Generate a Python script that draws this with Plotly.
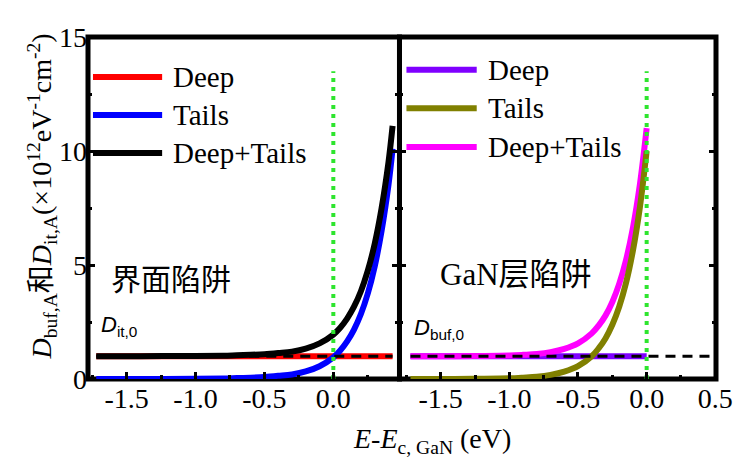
import plotly.graph_objects as go

# ---- data: interface traps (left panel) ----
E_it = [-1.72, -1.4, -1.0, -0.8, -0.7, -0.6, -0.5, -0.4, -0.3, -0.2, -0.1, 0.0,
        0.05, 0.1, 0.15, 0.2, 0.25, 0.3, 0.35, 0.4, 0.43]
deep_it = [1.0] * len(E_it)
tails_it = [0.0, 0.002, 0.008, 0.02, 0.04, 0.06, 0.09, 0.14, 0.2, 0.33, 0.56, 0.95,
            1.25, 1.65, 2.17, 2.85, 3.75, 4.93, 6.49, 8.5, 10.1]
total_it = [1.0, 1.002, 1.008, 1.02, 1.04, 1.06, 1.09, 1.14, 1.2, 1.33, 1.56, 1.95,
            2.25, 2.65, 3.17, 3.85, 4.75, 5.93, 7.49, 9.5, 11.1]
E_it_ref = [-1.72, 0.43]
D_it0 = [1.0, 1.0]

# ---- data: GaN buffer traps (right panel) ----
E_buf = [-1.72, -1.4, -1.2, -1.0, -0.9, -0.8, -0.7, -0.6, -0.5, -0.4, -0.35, -0.3,
         -0.25, -0.2, -0.15, -0.1, -0.05, 0.0]
deep_buf = [1.0] * len(E_buf)
tails_buf = [0.0, 0.003, 0.01, 0.03, 0.06, 0.1, 0.18, 0.32, 0.56, 1.0, 1.34, 1.78,
             2.38, 3.17, 4.22, 5.63, 7.5, 10.0]
total_buf = [1.0, 1.003, 1.01, 1.03, 1.06, 1.1, 1.18, 1.32, 1.56, 2.0, 2.34, 2.78,
             3.38, 4.17, 5.22, 6.63, 8.5, 11.0]
E_buf_ref = [-1.72, 0.5]
D_buf0 = [1.0, 1.0]

# conduction band edge marker
E_c = [0.0, 0.0]
marker_span = [0.0, 13.5]

x_tickvals_left = [-1.5, -1.0, -0.5, 0.0]
x_ticktext_left = ["-1.5", "-1.0", "-0.5", "0.0"]
x_tickvals_right = [-1.5, -1.0, -0.5, 0.0, 0.5]
x_ticktext_right = ["-1.5", "-1.0", "-0.5", "0.0", "0.5"]
y_tickvals = [0, 5, 10, 15]

series_left = [("Deep", "#ff0000", deep_it), ("Tails", "#0000ff", tails_it),
               ("Deep+Tails", "#000000", total_it)]
series_right = [("Deep", "#7f00ff", deep_buf), ("Tails", "#808000", tails_buf),
                ("Deep+Tails", "#ff00ff", total_buf)]

SERIF = "Liberation Serif, Times New Roman, serif"
CJK = "Noto Sans CJK SC"
SANS = "Liberation Sans, Arial, sans-serif"

fig = go.Figure()

for name, color, ys in series_left:
    fig.add_trace(go.Scatter(x=E_it, y=ys, mode="lines", name=name,
                             line=dict(color=color, width=6, shape="spline"),
                             xaxis="x", yaxis="y", showlegend=False))
fig.add_trace(go.Scatter(x=E_it_ref, y=D_it0, mode="lines",
                         line=dict(color="black", width=3, dash="10px,7px"),
                         xaxis="x", yaxis="y", showlegend=False))
fig.add_trace(go.Scatter(x=E_c, y=marker_span, mode="lines",
                         line=dict(color="#2ee52e", width=4, dash="4px,5px"),
                         xaxis="x", yaxis="y", showlegend=False))

# right panel: Deep under Deep+Tails
for name, color, ys in [series_right[0], series_right[2], series_right[1]]:
    fig.add_trace(go.Scatter(x=E_buf, y=ys, mode="lines", name=name,
                             line=dict(color=color, width=6, shape="spline"),
                             xaxis="x2", yaxis="y2", showlegend=False))
fig.add_trace(go.Scatter(x=E_buf_ref, y=D_buf0, mode="lines",
                         line=dict(color="black", width=3, dash="10px,7px"),
                         xaxis="x2", yaxis="y2", showlegend=False))
fig.add_trace(go.Scatter(x=E_c, y=marker_span, mode="lines",
                         line=dict(color="#2ee52e", width=4, dash="4px,5px"),
                         xaxis="x2", yaxis="y2", showlegend=False))

tickfont = dict(family=SERIF, size=28, color="black")
xcommon = dict(ticks="inside", ticklen=7, tickwidth=3, tickcolor="black",
               showgrid=False, zeroline=False, showline=False, tickfont=tickfont,
               minor=dict(ticks="inside", ticklen=4, tickwidth=3, dtick=0.25,
                          tickcolor="black", showgrid=False))
ycommon = dict(range=[0, 15], ticks="inside", ticklen=7, tickwidth=3, tickcolor="black",
               showgrid=False, zeroline=False, showline=False, mirror="ticks",
               tickfont=tickfont, tickvals=y_tickvals,
               minor=dict(ticks="inside", ticklen=4, tickwidth=3, dtick=2.5,
                          tickcolor="black", showgrid=False))

split = 0.496
fig.update_layout(
    width=745, height=461,
    margin=dict(l=88, r=22, t=37, b=82),
    paper_bgcolor="white", plot_bgcolor="white",
    xaxis=dict(domain=[0, split], range=[-1.78, 0.48], anchor="y",
               tickvals=x_tickvals_left, ticktext=x_ticktext_left, **xcommon),
    xaxis2=dict(domain=[split, 1], range=[-1.80, 0.505], anchor="y2",
                tickvals=x_tickvals_right, ticktext=x_ticktext_right, **xcommon),
    yaxis=dict(anchor="x", **ycommon),
    yaxis2=dict(anchor="x2", matches="y", showticklabels=False, **ycommon),
    showlegend=False,
)

# panel frames
for xr, yr in [("x domain", "y domain"), ("x2 domain", "y2 domain")]:
    fig.add_shape(type="rect", xref=xr, yref=yr, x0=0, x1=1, y0=0, y1=1,
                  line=dict(color="black", width=5), layer="below")

# in-panel legends
legend_rows = [
    ("x domain", "y domain", 0.016, 0.238, 0.267, [0.883, 0.772, 0.661], series_left),
    ("x2 domain", "y2 domain", 0.022, 0.244, 0.272, [0.904, 0.792, 0.678], series_right),
]
for xr, yr, lx0, lx1, tx, ys, series in legend_rows:
    for (name, color, _), yy in zip(series, ys):
        fig.add_shape(type="line", xref=xr, yref=yr, x0=lx0, x1=lx1, y0=yy, y1=yy,
                      line=dict(color=color, width=6))
        fig.add_annotation(xref=xr, yref=yr, x=tx, y=yy, text=name, showarrow=False,
                           xanchor="left", yanchor="middle",
                           font=dict(family=SERIF, size=29, color="black"))

# panel labels
fig.add_annotation(xref="x domain", yref="y domain", x=0.267, y=0.298, text="界面陷阱",
                   showarrow=False, xanchor="center", yanchor="middle",
                   font=dict(family=CJK, size=30, color="black"))
fig.add_annotation(xref="x2 domain", yref="y2 domain", x=0.369, y=0.313,
                   text="<span style='font-family:Liberation Serif'>GaN</span>层陷阱",
                   showarrow=False, xanchor="center", yanchor="middle",
                   font=dict(family=CJK, size=31, color="black"))
fig.add_annotation(xref="x domain", yref="y domain", x=0.035, y=0.155,
                   text="<i>D</i><sub>it,0</sub>", showarrow=False,
                   xanchor="left", yanchor="middle",
                   font=dict(family=SANS, size=22, color="black"))
fig.add_annotation(xref="x2 domain", yref="y2 domain", x=0.040, y=0.146,
                   text="<i>D</i><sub>buf,0</sub>", showarrow=False,
                   xanchor="left", yanchor="middle",
                   font=dict(family=SANS, size=22, color="black"))

# axis titles
fig.add_annotation(xref="paper", yref="paper", x=-0.0756, y=0.532, textangle=-90,
                   text=("<i>D</i><sub>buf,A</sub>"
                         "<span style='font-family:Noto Sans CJK SC'>和</span>"
                         "<i>D</i><sub>it,A</sub>(×10<sup>12</sup>eV<sup>-1</sup>cm<sup>-2</sup>)"),
                   showarrow=False, xanchor="center", yanchor="middle",
                   font=dict(family=SERIF, size=28, color="black"))
fig.add_annotation(xref="paper", yref="paper", x=0.547, y=-0.18,
                   text="<i>E</i>-<i>E</i><sub>c, GaN</sub> (eV)",
                   showarrow=False, xanchor="center", yanchor="middle",
                   font=dict(family=SERIF, size=28, color="black"))

fig.write_html("out.html")
